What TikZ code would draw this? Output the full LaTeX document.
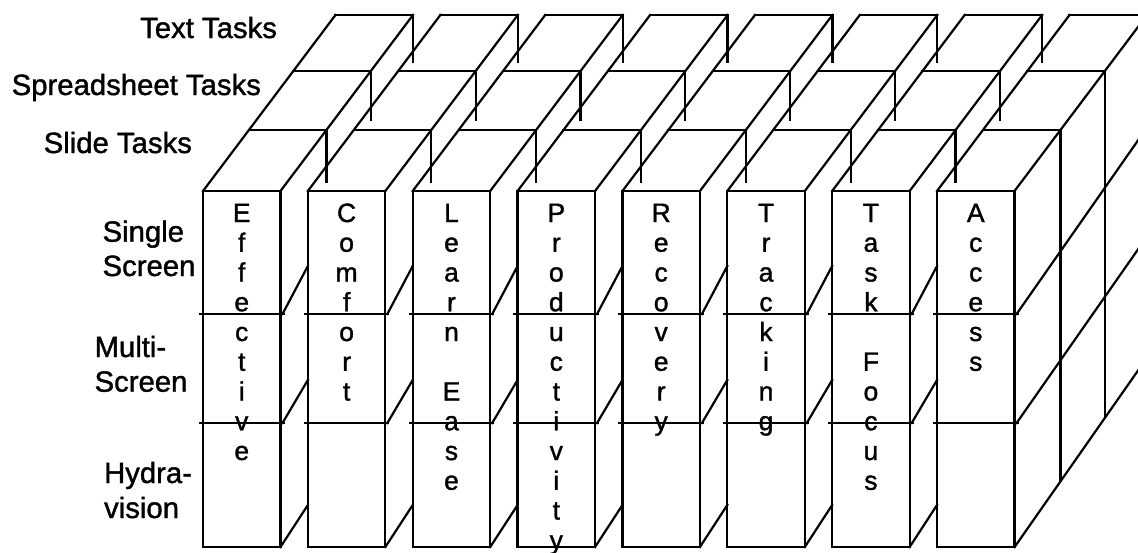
\documentclass[tikz,border=0pt]{standalone}
\usepackage{fontspec}
\setmainfont{Liberation Sans}
\newfontfamily\heavysans{Liberation Sans}[FakeBold=1.3]
\begin{document}
\begin{tikzpicture}[x=1pt,y=-1pt,line width=2.2pt,line join=miter,line cap=rect,
  lab/.style={font=\heavysans\fontsize{29.3}{34.7}\selectfont,inner sep=0pt},
  ltr/.style={font=\heavysans\fontsize{26.5}{30}\selectfont,inner sep=0pt,anchor=base}]
\useasboundingbox (0,0) rectangle (1138,552);
\begin{scope}
\clip (0,0) rectangle (1138,552);
% all columns: front faces and top faces
\foreach \c in {0,...,7} {
  \pgfmathsetmacro\xl{203+\c*104.86}
  \pgfmathsetmacro\xr{\xl+77.5}
  \draw (\xl,191) rectangle (\xr,547);
  \draw (\xl-3,314) -- (\xr+3,314);
  \draw (\xl-3,423) -- (\xr+3,423);
  \draw (\xl,191) -- ++(132.5,-176);
  \draw (\xr,191) -- ++(132.5,-176);
  \foreach \dx/\dy in {45.9/61,90.3/120,132.5/176} {
    \draw (\xl+\dx,191-\dy) -- (\xr+\dx,191-\dy);
  }
}
% columns 1-7: short verticals and side diagonals in the gaps
\foreach \c in {0,...,6} {
  \pgfmathsetmacro\xl{203+\c*104.86}
  \pgfmathsetmacro\xr{\xl+77.5}
  \pgfmathsetmacro\xn{\xl+104.86}
  \draw (\xr+45.9,130) -- (\xr+45.9,182);
  \draw (\xr+90.3,71) -- (\xr+90.3,120);
  \draw (\xr+132.5,15) -- (\xr+132.5,62);
  \draw (\xr+2,314) -- (\xn,266);
  \draw (\xr+2,423) -- (\xn,380);
  \draw (\xr,547) -- (\xn,505);
}
% last column: right side face
\coordinate (r1) at (1016.6,314);
\coordinate (r2) at (1016.6,423);
\coordinate (r3) at (1014.6,547);
\draw (r1) -- ++(132.5,-189.5);
\draw (r2) -- ++(132.5,-189.5);
\draw (r3) -- ++(132.5,-189.5);
\draw (1060.5,130) -- (1060.5,481);
\draw (1104.9,71) -- (1104.9,418);
\draw (1147.1,15) -- (1147.1,357);
\end{scope}
% depth labels
\node[lab,anchor=base east] (text) at (278,38) {Text Tasks};
\node[lab,anchor=base east] (spread) at (262,95) {Spreadsheet Tasks};
\node[lab,anchor=base east] (slide) at (193,153) {Slide Tasks};
% row labels
\node[lab,anchor=base west] (single1) at (101.5,241.7) {Single};
\node[lab,anchor=base west] (single2) at (101.5,276) {Screen};
\node[lab,anchor=base west] (multi1) at (93.5,357) {Multi-};
\node[lab,anchor=base west] (multi2) at (93.5,391.7) {Screen};
\node[lab,anchor=base west] (hydra1) at (103,483) {Hydra-};
\node[lab,anchor=base west] (hydra2) at (103,518) {vision};
% column words
\foreach \ch [count=\i from 0] in {E,f,f,e,c,t,i,v,e}
  \node[ltr] (w1-\i) at (241.75,222+\i*29.75) {\ch};
\foreach \ch [count=\i from 0] in {C,o,m,f,o,r,t}
  \node[ltr] (w2-\i) at (346.61,222+\i*29.75) {\ch};
\foreach \ch [count=\i from 0] in {L,e,a,r,n}
  \node[ltr] (w3-\i) at (451.47,222+\i*29.75) {\ch};
\foreach \ch [count=\i from 6] in {E,a,s,e}
  \node[ltr] (w3-\i) at (451.47,222+\i*29.75) {\ch};
\foreach \ch [count=\i from 0] in {P,r,o,d,u,c,t,i,v,i,t,y}
  \node[ltr] (w4-\i) at (556.33,222+\i*29.75) {\ch};
\foreach \ch [count=\i from 0] in {R,e,c,o,v,e,r,y}
  \node[ltr] (w5-\i) at (661.19,222+\i*29.75) {\ch};
\foreach \ch [count=\i from 0] in {T,r,a,c,k,i,n,g}
  \node[ltr] (w6-\i) at (766.05,222+\i*29.75) {\ch};
\foreach \ch [count=\i from 0] in {T,a,s,k}
  \node[ltr] (w7-\i) at (870.91,222+\i*29.75) {\ch};
\foreach \ch [count=\i from 5] in {F,o,c,u,s}
  \node[ltr] (w7-\i) at (870.91,222+\i*29.75) {\ch};
\foreach \ch [count=\i from 0] in {A,c,c,e,s,s}
  \node[ltr] (w8-\i) at (975.77,222+\i*29.75) {\ch};
\end{tikzpicture}
\end{document}
